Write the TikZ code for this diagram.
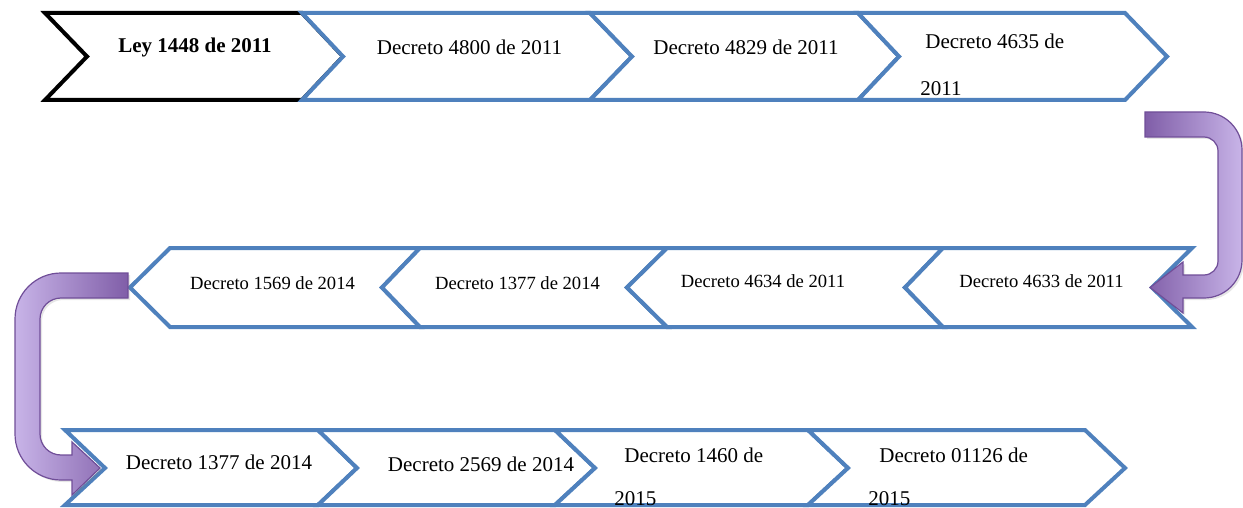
\documentclass[tikz,border=0pt]{standalone}
\usepackage{fontspec}
\setmainfont{Liberation Serif}
\usepackage{tikz}
\usetikzlibrary{shadows}
\definecolor{chblue}{RGB}{79,129,189}
\definecolor{chpurple}{RGB}{128,94,168}
\definecolor{chlavender}{RGB}{200,180,232}
\definecolor{chedge}{RGB}{112,78,152}
\tikzstyle{chevron} = [draw=chblue, line width=2pt, fill=white]
\tikzstyle{leychevron} = [draw=black, line width=2pt, fill=white]
\tikzstyle{bigtext} = [inner sep=0pt, font=\fontsize{10.5}{12.6}\selectfont]
\tikzstyle{smalltext} = [inner sep=0pt, font=\fontsize{9.3}{11}\selectfont]
\tikzstyle{uturn} = [draw=chedge, line width=0.6pt, drop shadow={opacity=0.2, shadow xshift=1pt, shadow yshift=-1pt}]

\begin{document}
\begin{tikzpicture}[x=0.5pt, y=-0.5pt]
\useasboundingbox (0,0) rectangle (1243,508);

% First row, pointing right
\draw[leychevron] (45,13) -- (302,13) -- (343,56.5) -- (302,100) -- (45,100) -- (87,56.5) -- cycle;
\draw[chevron] (302,13) -- (590,13) -- (632,56.5) -- (590,100) -- (302,100) -- (343,56.5) -- cycle;
\draw[chevron] (590,13) -- (858,13) -- (899,56.5) -- (858,100) -- (590,100) -- (632,56.5) -- cycle;
\draw[chevron] (858,13) -- (1125,13) -- (1167,56.5) -- (1125,100) -- (858,100) -- (899,56.5) -- cycle;

\node (ley1448) [bigtext, font=\fontsize{10.5}{12.6}\selectfont\bfseries] at (195,47) {Ley 1448 de 2011};
\node (d4800) [bigtext] at (469.5,47) {Decreto 4800 de 2011};
\node (d4829) [bigtext] at (746,47) {Decreto 4829 de 2011};
\node (d4635) [bigtext, font=\fontsize{10.5}{23.5}\selectfont, align=left, anchor=west] at (920,64.5) {\hspace*{2.5pt}Decreto 4635 de\\2011};

% Second row, pointing left
\draw[chevron] (130,287.5) -- (170,248) -- (420,248) -- (382,287.5) -- (420,327) -- (170,327) -- cycle;
\draw[chevron] (382,287.5) -- (420,248) -- (667,248) -- (627,287.5) -- (667,327) -- (420,327) -- cycle;
\draw[chevron] (627,287.5) -- (667,248) -- (943,248) -- (905,287.5) -- (943,327) -- (667,327) -- cycle;
\draw[chevron] (905,287.5) -- (943,248) -- (1192,248) -- (1152,287.5) -- (1192,327) -- (943,327) -- cycle;

\node (d1569) [smalltext] at (272.5,283) {Decreto 1569 de 2014};
\node (d1377a) [smalltext] at (517.5,283) {Decreto 1377 de 2014};
\node (d4634) [smalltext] at (763,281) {Decreto 4634 de 2011};
\node (d4633) [smalltext] at (1041.5,281) {Decreto 4633 de 2011};

% Third row, pointing right
\draw[chevron] (65,430) -- (318,430) -- (357,468) -- (318,505) -- (65,505) -- (105,468) -- cycle;
\draw[chevron] (318,430) -- (555,430) -- (595,468) -- (555,505) -- (318,505) -- (357,468) -- cycle;
\draw[chevron] (555,430) -- (808,430) -- (848,468) -- (808,505) -- (555,505) -- (595,468) -- cycle;
\draw[chevron] (808,430) -- (1085,430) -- (1125,468) -- (1085,505) -- (808,505) -- (848,468) -- cycle;

\node (d1377b) [bigtext] at (219,462) {Decreto 1377 de 2014};
\node (d2569) [bigtext] at (481,464) {Decreto 2569 de 2014};
\node (d1460) [bigtext, font=\fontsize{10.5}{21.5}\selectfont, align=left, anchor=west] at (614,476.5) {\hspace*{5pt}Decreto 1460 de\\2015};
\node (d01126) [bigtext, font=\fontsize{10.5}{21.5}\selectfont, align=left, anchor=west] at (868,476.5) {\hspace*{5.5pt}Decreto 01126 de\\2015};

% U-turn arrows between the rows
\path[uturn, left color=chpurple, right color=chlavender]
  (1145,112) -- (1204,112) arc[start angle=-90, end angle=0, radius=38]
  -- (1242,260) arc[start angle=0, end angle=90, radius=38]
  -- (1183,298) -- (1183,313) -- (1150,287.5) -- (1183,262) -- (1183,275)
  -- (1204,275) arc[start angle=90, end angle=0, radius=14]
  -- (1218,151) arc[start angle=0, end angle=-90, radius=14]
  -- (1145,137) -- cycle;
\path[uturn, left color=chlavender, right color=chpurple]
  (128,273) -- (61,273) arc[start angle=-90, end angle=-180, radius=46]
  -- (15,434) arc[start angle=180, end angle=90, radius=46]
  -- (72,480) -- (72,495) -- (100,468) -- (72,442) -- (72,455)
  -- (61,455) arc[start angle=90, end angle=180, radius=21]
  -- (40,319) arc[start angle=180, end angle=270, radius=21]
  -- (128,298) -- cycle;
\end{tikzpicture}
\end{document}
